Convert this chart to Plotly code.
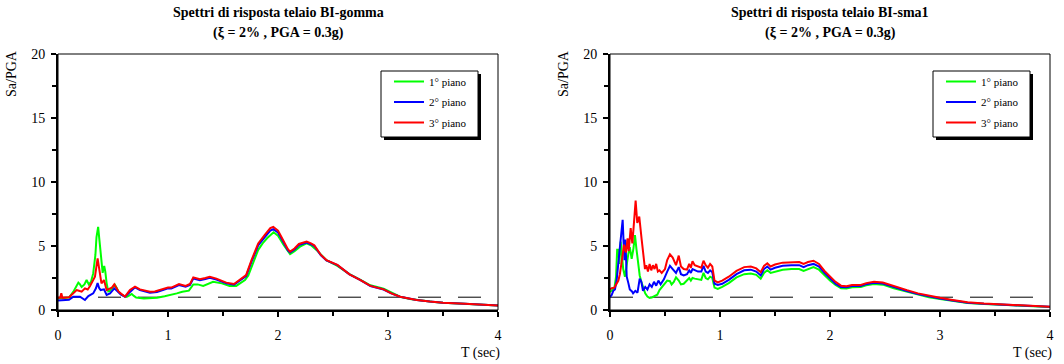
import plotly.graph_objects as go

W, H = 1064, 364

# ---- Response spectra, frame "BI-gomma" (period T in s, Sa/PGA) ----
T_GOMMA_P1 = [0, 0.05, 0.1, 0.14, 0.17, 0.185, 0.2, 0.215, 0.24, 0.26, 0.28, 0.3, 0.32, 0.34, 0.35,
              0.365, 0.375, 0.388, 0.406, 0.42, 0.43, 0.442, 0.457, 0.47, 0.488, 0.518, 0.535, 0.548,
              0.58, 0.624, 0.65, 0.67, 0.69, 0.71, 0.78, 0.85, 0.9, 0.97, 1.03, 1.08, 1.13, 1.19, 1.23,
              1.27, 1.32, 1.36, 1.41, 1.49, 1.56, 1.62, 1.7, 1.73, 1.76, 1.82, 1.86, 1.9, 1.96, 2.0,
              2.05, 2.11, 2.15, 2.2, 2.26, 2.3, 2.36, 2.44, 2.54, 2.65, 2.75, 2.84, 2.96, 3.03, 3.11,
              3.2, 3.3, 3.4, 3.5, 3.7, 3.85, 4.0]
SA_GOMMA_P1 = [0.9, 0.95, 0.97, 1.43, 1.9, 2.14, 2.0, 1.8, 2.0, 2.34, 2.0, 2.2, 2.86, 4.3, 5.7,
               6.5, 5.6, 4.4, 2.9, 3.45, 3.0, 2.1, 1.45, 1.5, 1.7, 1.95, 1.7, 1.45,
               1.17, 1.02, 1.15, 1.25, 1.1, 0.98, 0.9, 0.92, 0.96, 1.08, 1.17, 1.3, 1.43, 1.51, 2.0,
               2.0, 1.88, 2.05, 2.2, 2.08, 1.88, 1.88, 2.34, 2.7, 3.4, 4.7, 5.2, 5.6, 6.07, 5.8,
               5.1, 4.37, 4.6, 4.95, 5.2, 5.05, 4.6, 3.9, 3.45, 2.8, 2.35, 1.93, 1.66, 1.35, 1.04,
               0.86, 0.74, 0.64, 0.57, 0.48, 0.42, 0.36]

T_GOMMA_P2 = [0, 0.05, 0.1, 0.14, 0.2, 0.245, 0.276, 0.32, 0.345, 0.36, 0.375, 0.388, 0.418, 0.442,
              0.473, 0.512, 0.54, 0.57, 0.609, 0.654, 0.7, 0.745, 0.836, 0.9, 0.958, 1.0, 1.03, 1.1,
              1.16, 1.2, 1.23, 1.29, 1.34, 1.38, 1.44, 1.53, 1.6, 1.67, 1.71, 1.76, 1.82, 1.88, 1.93,
              1.957, 2.0, 2.03, 2.09, 2.11, 2.15, 2.19, 2.26, 2.3, 2.33, 2.39, 2.44, 2.54, 2.65, 2.75,
              2.84, 2.96, 3.03, 3.11, 3.26, 3.38, 3.5, 3.7, 3.85, 4.0]
SA_GOMMA_P2 = [0.75, 0.78, 0.8, 1.04, 1.04, 0.78, 1.09, 1.3, 1.7, 2.1, 1.7, 1.56, 1.61, 1.17,
               1.3, 1.69, 1.43, 1.22, 1.04, 1.43, 1.77, 1.56, 1.35, 1.4, 1.61, 1.7, 1.68, 1.95,
               1.82, 1.96, 2.45, 2.32, 2.42, 2.52, 2.38, 2.08, 1.98, 2.4, 2.65, 3.8, 5.05, 5.7, 6.2,
               6.32, 6.05, 5.6, 4.65, 4.5, 4.72, 5.08, 5.27, 5.14, 5.0, 4.27, 3.87, 3.5, 2.78, 2.33,
               1.87, 1.6, 1.3, 1.04, 0.78, 0.66, 0.57, 0.48, 0.42, 0.36]

T_GOMMA_P3 = [0, 0.02, 0.03, 0.04, 0.1, 0.124, 0.15, 0.17, 0.19, 0.215, 0.245, 0.27, 0.29, 0.306,
              0.336, 0.36, 0.37, 0.38, 0.395, 0.418, 0.442, 0.465, 0.49, 0.512, 0.533, 0.55, 0.57,
              0.609, 0.654, 0.7, 0.745, 0.79, 0.836, 0.88, 0.92, 0.958, 1.0, 1.03, 1.1, 1.16, 1.2,
              1.23, 1.29, 1.34, 1.38, 1.44, 1.53, 1.6, 1.67, 1.71, 1.76, 1.82, 1.88, 1.93, 1.957,
              2.0, 2.03, 2.09, 2.11, 2.15, 2.19, 2.26, 2.3, 2.33, 2.39, 2.44, 2.54, 2.65, 2.75, 2.84,
              2.96, 3.03, 3.11, 3.26, 3.38, 3.5, 3.7, 3.85, 4.0]
SA_GOMMA_P3 = [0.95, 0.95, 1.3, 0.95, 1.0, 1.17, 1.35, 1.56, 1.5, 1.43, 1.69, 1.6, 1.85, 2.08,
               2.6, 4.04, 3.5, 2.73, 2.08, 2.34, 1.56, 1.65, 1.75, 2.0, 1.69, 1.45, 1.3,
               1.04, 1.56, 1.82, 1.61, 1.5, 1.43, 1.45, 1.55, 1.69, 1.75, 1.75, 2.03, 1.88, 2.03,
               2.55, 2.4, 2.5, 2.6, 2.45, 2.14, 2.03, 2.47, 2.73, 3.91, 5.2, 5.86, 6.4, 6.5,
               6.2, 5.73, 4.75, 4.56, 4.8, 5.16, 5.34, 5.2, 5.05, 4.3, 3.9, 3.52, 2.79, 2.34, 1.88,
               1.61, 1.3, 1.04, 0.78, 0.66, 0.57, 0.48, 0.42, 0.36]

# ---- Response spectra, frame "BI-sma1" ----
T_SMA_P1 = [0, 0.015, 0.04, 0.055, 0.065, 0.076, 0.085, 0.097, 0.108, 0.12, 0.136, 0.15, 0.167,
            0.18, 0.197, 0.213, 0.227, 0.24, 0.255, 0.27, 0.285, 0.3, 0.32, 0.34, 0.36, 0.38, 0.41,
            0.43, 0.45, 0.48, 0.5, 0.52, 0.545, 0.56, 0.58, 0.6, 0.625, 0.645, 0.67, 0.7, 0.72,
            0.735, 0.75, 0.77, 0.8, 0.83, 0.85, 0.87, 0.89, 0.91, 0.93, 0.95, 0.98, 1.02, 1.08,
            1.15, 1.22, 1.28, 1.33, 1.37, 1.4, 1.43, 1.46, 1.5, 1.57, 1.65, 1.72, 1.76, 1.8, 1.85,
            1.9, 1.95, 2.0, 2.05, 2.1, 2.15, 2.2, 2.28, 2.33, 2.4, 2.48, 2.58, 2.7, 2.8, 2.9, 3.0,
            3.1, 3.25, 3.4, 3.55, 3.7, 3.85, 4.0]
SA_SMA_P1 = [1.4, 1.5, 1.7, 2.6, 4.7, 4.7, 3.6, 5.35, 4.4, 3.2, 2.6, 3.5, 4.4,
             4.9, 4.0, 4.8, 5.85, 4.8, 3.6, 2.7, 2.2, 1.8, 1.3, 1.05, 0.95, 0.98, 1.15,
             1.2, 1.55, 1.9, 2.1, 2.3, 2.25, 2.0, 2.2, 2.55, 2.3, 2.0, 2.05, 2.3, 2.5,
             2.3, 2.5, 2.45, 2.4, 2.35, 2.9, 2.5, 2.4, 2.6, 2.5, 1.75, 1.65, 1.8, 2.1,
             2.55, 2.8, 2.85, 2.75, 2.45, 2.9, 3.1, 2.9, 3.0, 3.15, 3.2, 3.2, 3.05, 3.2, 3.35,
             3.15, 2.7, 2.3, 1.95, 1.7, 1.68, 1.78, 1.8, 1.93, 2.03, 1.98, 1.7, 1.42, 1.18, 1.0, 0.86,
             0.72, 0.55, 0.46, 0.4, 0.35, 0.3, 0.24]

T_SMA_P2 = [0, 0.015, 0.03, 0.045, 0.06, 0.075, 0.09, 0.1, 0.115, 0.125, 0.132, 0.14, 0.152,
            0.167, 0.18, 0.2, 0.21, 0.23, 0.25, 0.27, 0.285, 0.3, 0.32, 0.34, 0.36, 0.38, 0.4,
            0.42, 0.44, 0.46, 0.49, 0.52, 0.545, 0.57, 0.6, 0.625, 0.645, 0.67, 0.7, 0.72, 0.735,
            0.75, 0.77, 0.8, 0.83, 0.85, 0.87, 0.89, 0.91, 0.93, 0.95, 0.98, 1.02, 1.08, 1.15,
            1.22, 1.28, 1.33, 1.37, 1.4, 1.43, 1.46, 1.5, 1.57, 1.65, 1.72, 1.76, 1.8, 1.85, 1.9,
            1.95, 2.0, 2.05, 2.1, 2.15, 2.2, 2.28, 2.33, 2.4, 2.48, 2.58, 2.7, 2.8, 2.9, 3.0, 3.1,
            3.25, 3.4, 3.55, 3.7, 3.85, 4.0]
SA_SMA_P2 = [1.0, 1.17, 1.5, 1.6, 2.3, 3.5, 5.2, 6.0, 7.05, 5.0, 3.9, 5.5, 2.6,
             2.1, 1.6, 1.45, 1.3, 1.5, 1.35, 2.45, 2.2, 1.5, 1.8, 1.6, 2.0, 1.8, 2.2,
             1.9, 2.3, 2.0, 2.4, 3.0, 3.45, 3.2, 2.9, 3.35, 2.8, 2.7, 2.8, 3.1, 2.9,
             3.2, 3.1, 3.0, 3.0, 3.45, 3.0, 2.9, 3.1, 2.95, 2.05, 1.95, 2.05, 2.35, 2.8,
             3.1, 3.15, 3.0, 2.7, 3.2, 3.4, 3.15, 3.3, 3.45, 3.5, 3.5, 3.35, 3.5, 3.6, 3.4,
             2.9, 2.45, 2.05, 1.8, 1.78, 1.88, 1.88, 2.02, 2.12, 2.07, 1.78, 1.48, 1.24, 1.05, 0.9, 0.76,
             0.57, 0.48, 0.42, 0.36, 0.31, 0.25]

T_SMA_P3 = [0, 0.015, 0.04, 0.06, 0.076, 0.09, 0.106, 0.118, 0.127, 0.136, 0.145, 0.16, 0.17,
            0.188, 0.203, 0.215, 0.233, 0.248, 0.266, 0.288, 0.305, 0.318, 0.33, 0.345, 0.36,
            0.375, 0.39, 0.405, 0.42, 0.435, 0.45, 0.47, 0.5, 0.52, 0.545, 0.57, 0.6, 0.625, 0.645,
            0.67, 0.7, 0.72, 0.735, 0.75, 0.77, 0.8, 0.83, 0.85, 0.87, 0.89, 0.91, 0.93, 0.95,
            0.98, 1.02, 1.08, 1.15, 1.22, 1.28, 1.33, 1.37, 1.4, 1.43, 1.46, 1.5, 1.57, 1.65, 1.72,
            1.76, 1.8, 1.85, 1.9, 1.95, 2.0, 2.05, 2.1, 2.15, 2.2, 2.28, 2.33, 2.4, 2.48, 2.58,
            2.7, 2.8, 2.9, 3.0, 3.1, 3.25, 3.4, 3.55, 3.7, 3.85, 4.0]
SA_SMA_P3 = [1.6, 1.7, 1.75, 2.0, 2.3, 2.8, 3.6, 4.5, 5.1, 4.8, 4.5, 5.6, 4.6,
             6.4, 5.2, 6.5, 8.55, 6.8, 7.3, 5.5, 4.0, 3.2, 3.5, 3.0, 3.6,
             3.1, 3.5, 3.2, 3.6, 3.0, 3.1, 2.9, 3.2, 3.9, 4.35, 4.1, 3.5, 4.25, 3.4,
             3.2, 3.15, 3.6, 3.3, 3.8, 3.5, 3.4, 3.3, 3.85, 3.5, 3.3, 3.6, 3.4, 2.3,
             2.15, 2.3, 2.6, 3.05, 3.35, 3.4, 3.25, 2.95, 3.45, 3.65, 3.4, 3.55, 3.7, 3.75, 3.75,
             3.6, 3.75, 3.85, 3.6, 3.05, 2.6, 2.2, 1.9, 1.85, 1.95, 1.95, 2.1, 2.2, 2.15, 1.85,
             1.55, 1.3, 1.1, 0.95, 0.8, 0.6, 0.5, 0.44, 0.38, 0.32, 0.26]

# Sa/PGA = 1 reference level (ground)
T_REF = [0, 4]
SA_REF = [1, 1]

TITLES = ["Spettri di risposta telaio BI-gomma", "Spettri di risposta telaio BI-sma1"]
SUBTITLE = "(ξ = 2% , PGA = 0.3g)"
FLOOR_NAMES = ["1° piano", "2° piano", "3° piano"]
FLOOR_COLORS = ["#00ff00", "#0000ff", "#ff0000"]
X_TICKS = [0, 1, 2, 3, 4]
Y_TICKS = [0, 5, 10, 15, 20]

FONT = "Liberation Serif, Times New Roman, serif"

# plot rectangles in pixels: (left, right), top, bottom
PANELS = [(58, 498), (610, 1050)]
TOP, BOTTOM = 54, 310
# legend frame: offset from the plot's right edge, top, width, height
LEG_DX, LEG_TOP, LEG_W, LEG_H = 117, 71, 97, 66


def px(x):
    return x / W


def py(y):
    return 1 - y / H


fig = go.Figure()

series = [
    [(T_GOMMA_P1, SA_GOMMA_P1), (T_GOMMA_P2, SA_GOMMA_P2), (T_GOMMA_P3, SA_GOMMA_P3)],
    [(T_SMA_P1, SA_SMA_P1), (T_SMA_P2, SA_SMA_P2), (T_SMA_P3, SA_SMA_P3)],
]

for i, panel in enumerate(series):
    xa = "x" if i == 0 else "x2"
    ya = "y" if i == 0 else "y2"
    leg = "legend" if i == 0 else "legend2"
    fig.add_trace(go.Scatter(x=T_REF, y=SA_REF, mode="lines", xaxis=xa, yaxis=ya,
                             line=dict(color="black", width=1, dash="23px,17px"),
                             showlegend=False, hoverinfo="skip"))
    for k, ((t, s), name, col) in enumerate(zip(panel, FLOOR_NAMES, FLOOR_COLORS)):
        fig.add_trace(go.Scatter(x=t, y=s, mode="lines", name=name, xaxis=xa, yaxis=ya,
                                 legend=leg, legendgroup=f"{leg}-{k}",
                                 line=dict(color=col, width=2)))

axis_common = dict(showgrid=False, zeroline=False, showline=True, linecolor="black",
                   linewidth=2, ticks="outside", ticklen=5, tickwidth=1.5, tickcolor="black",
                   automargin=False,
                   tickfont=dict(family=FONT, size=14, color="black"))

shapes = []
annotations = []
for i, (l, r) in enumerate(PANELS):
    sfx = "" if i == 0 else "2"
    fig.update_layout(**{
        f"xaxis{sfx}": dict(axis_common, domain=[px(l), px(r)], range=[0, 4],
                            tickvals=X_TICKS, anchor=f"y{sfx}", ticklabelstandoff=6,
                            minor=dict(dtick=0.5, ticklen=4, tickwidth=1.5, tickcolor="black",
                                       ticks="outside")),
        f"yaxis{sfx}": dict(axis_common, domain=[py(BOTTOM), py(TOP)], range=[0, 20],
                            tickvals=Y_TICKS, anchor=f"x{sfx}", ticklabelstandoff=3,
                            minor=dict(dtick=2.5, ticklen=4, tickwidth=1.5, tickcolor="black",
                                       ticks="outside")),
    })
    # thin frame on the top and right sides
    shapes.append(dict(type="rect", xref="paper", yref="paper", x0=px(l), x1=px(r),
                       y0=py(BOTTOM), y1=py(TOP), line=dict(color="black", width=1),
                       layer="above"))
    cx = (l + r) / 2
    annotations.append(dict(text=f"<b>{TITLES[i]}</b>", x=px(cx), y=py(13), xref="paper",
                            yref="paper", showarrow=False, xanchor="center", yanchor="middle",
                            font=dict(family=FONT, size=14, color="black")))
    annotations.append(dict(text=f"<b>{SUBTITLE}</b>", x=px(cx), y=py(33), xref="paper",
                            yref="paper", showarrow=False, xanchor="center", yanchor="middle",
                            font=dict(family=FONT, size=14, color="black")))
    annotations.append(dict(text="Sa/PGA", textangle=-90, x=px(l - 46), y=py(74),
                            xref="paper", yref="paper", showarrow=False, xanchor="center",
                            yanchor="middle", font=dict(family=FONT, size=14, color="black")))
    annotations.append(dict(text="T (sec)", x=px(r + 4), y=py(353), xref="paper", yref="paper",
                            showarrow=False, xanchor="right", yanchor="middle",
                            font=dict(family=FONT, size=14, color="black")))
    # legend frame with drop shadow
    lx = r - LEG_DX
    shapes.append(dict(type="rect", xref="paper", yref="paper", x0=px(lx + 3),
                       x1=px(lx + LEG_W + 3), y0=py(LEG_TOP + LEG_H + 3), y1=py(LEG_TOP + 3),
                       fillcolor="black", line=dict(width=0), layer="above"))
    shapes.append(dict(type="rect", xref="paper", yref="paper", x0=px(lx),
                       x1=px(lx + LEG_W), y0=py(LEG_TOP + LEG_H), y1=py(LEG_TOP),
                       fillcolor="white", line=dict(color="black", width=1), layer="above"))

legend_common = dict(bgcolor="rgba(0,0,0,0)", borderwidth=0,
                     font=dict(family=FONT, size=11, color="black"),
                     xref="paper", yref="paper", xanchor="left", yanchor="top",
                     tracegroupgap=1.5)

fig.update_layout(
    width=W, height=H,
    margin=dict(l=0, r=0, t=0, b=0, autoexpand=False),
    paper_bgcolor="white", plot_bgcolor="white",
    showlegend=True,
    legend=dict(legend_common, x=px(PANELS[0][1] - LEG_DX + 8), y=py(LEG_TOP - 4)),
    legend2=dict(legend_common, x=px(PANELS[1][1] - LEG_DX + 8), y=py(LEG_TOP - 4)),
    shapes=shapes,
    annotations=annotations,
)

fig.write_html("out.html")
